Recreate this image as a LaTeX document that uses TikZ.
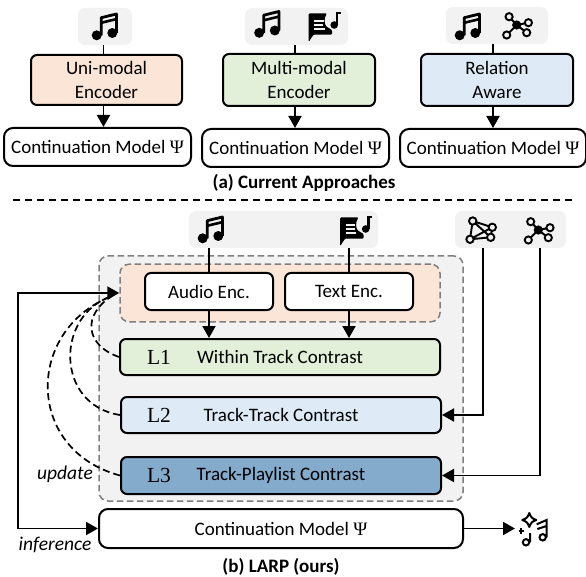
\documentclass[tikz,border=0pt]{standalone}
\usepackage{fontspec}
\setmainfont{Carlito}
\newfontfamily\serifsym{Liberation Serif}
\usetikzlibrary{arrows.meta}
\definecolor{icon gray}{HTML}{F2F2F2}
\definecolor{peach}{HTML}{FBE5D6}
\definecolor{leaf}{HTML}{E2F0D9}
\definecolor{sky}{HTML}{DEEBF7}
\definecolor{steel}{HTML}{85ABCC}
\definecolor{dash gray}{HTML}{7F7F7F}
\newcommand{\psisym}{{\serifsym Ψ}}
\begin{document}
\begin{tikzpicture}[x=1pt,y=-1pt]
    \begin{scope}
        \tikzset{
            enc box/.style={draw, line width=2pt, rounded corners=6pt, inner sep=0pt, align=center, font=\fontsize{19}{23.5}\selectfont},
            icon back/.style={fill=icon gray, rounded corners=7pt, inner sep=0pt},
            dash back/.style={draw=dash gray, line width=1.5pt, dash pattern=on 6.5pt off 3.5pt, rounded corners=9pt, inner sep=0pt},
            flow/.style={line width=1.9pt, -{Triangle[length=12pt,width=13pt]}},
            feed/.style={line width=1.9pt},
            update line/.style={line width=1.7pt, dash pattern=on 7pt off 4pt},
            caption/.style={font=\fontsize{19}{21}\selectfont\bfseries},
            side label/.style={font=\fontsize{19.5}{21}\selectfont\itshape},
            loss label/.style={font=\fontsize{21.5}{23}\selectfont\serifsym},
            music note/.pic={
                \fill (-8.3,7.3) circle (5) (7.3,5) circle (5);
                \draw[line width=2.8pt, line join=round] (-3.8,7.3) -- (-3.8,-10.3) -- (11.4,-14) -- (11.4,5);
                \draw[line width=2.6pt] (-3.8,-5.2) -- (11.4,-8.9);
            },
            chat note/.pic={
                \fill[rounded corners=1pt] (-12.8,-13.6) -- (5.5,-13.6) .. controls (2.5,-9) and (2.5,-3) .. (5.5,0) -- (10.5,3) -- (10.5,7.6) -- (-8,7.6) -- (-12.8,15) -- cycle;
                \draw[icon gray, line width=1.6pt] (-7.3,-6) -- (2,-6) (-7.3,-2) -- (1.5,-2) (-7.3,2.3) -- (3,2.3);
                \fill (12.7,-2) circle (3.8);
                \draw[line width=2.4pt] (15.6,-2) -- (15.6,-14) -- (19,-14);
            },
            mesh graph/.pic={
                \draw[line width=1.9pt, line join=round] (-10.3,-10) -- (9.3,-3.7) -- (-13,8.3) -- (7.7,6.3) -- (-10.3,-10) -- (-13,8.3) (9.3,-3.7) -- (7.7,6.3);
                \draw[line width=1.9pt, fill=icon gray] (-10.3,-10) circle (3.7) (9.3,-3.7) circle (3.7) (-13,8.3) circle (3.7) (7.7,6.3) circle (3.7);
            },
            star graph/.pic={
                \draw[line width=2pt] (-1.7,-1) -- (-9.3,-9.3) (-1.7,-1) -- (10,-3.3) (-1.7,-1) -- (-11.7,9) (-1.7,-1) -- (8.3,6.7);
                \fill (-1.7,-1) circle (4.6);
                \draw[line width=1.9pt, fill=icon gray] (-9.3,-9.3) circle (3.6) (10,-3.3) circle (3.6) (-11.7,9) circle (3.6) (8.3,6.7) circle (3.6);
            },
            sparkle note/.pic={
                \draw[line width=2pt, line join=round] (-5.7,-17) .. controls (-4,-12.5) and (-3,-11.5) .. (1.3,-10) .. controls (-3,-8.5) and (-4,-7.5) .. (-5.7,-3) .. controls (-7.4,-7.5) and (-8.4,-8.5) .. (-12.7,-10) .. controls (-8.4,-11.5) and (-7.4,-12.5) .. cycle;
                \draw[line width=2pt] (-16.5,1) -- (-11,1) (-13.8,-1.8) -- (-13.8,3.8);
                \draw[line width=2pt] (-9,12.3) circle (3.2) (7.7,7.3) circle (3.2);
                \draw[line width=2pt] (-4.8,12.3) -- (-4.8,3) (11.6,7.3) -- (11.6,-10) -- (1.7,-5.7) (11.6,-4) -- (2.3,-1);
            },
        }
        \useasboundingbox (0,0) rectangle (586,577);

        % Icons of the current approaches
        \node [icon back, minimum width=54pt, minimum height=37pt] (uni icons) at (105,26.5) {};
        \node [icon back, minimum width=103pt, minimum height=37pt] (multi icons) at (296.5,26.5) {};
        \node [icon back, minimum width=102pt, minimum height=37pt] (rel icons) at (497,25.5) {};
        \pic at (105,28) {music note};
        \pic at (267.5,25.5) {music note};
        \pic at (321.5,27) {chat note};
        \pic at (468,28) {music note};
        \pic at (518.4,26) {star graph};

        % Encoders and continuation models
        \node [enc box, fill=peach, minimum width=151pt, minimum height=50pt] (uni) at (106.5,80) {Uni-modal\\Encoder};
        \node [enc box, fill=leaf, minimum width=152pt, minimum height=52pt] (multi) at (299,80) {Multi-modal\\Encoder};
        \node [enc box, fill=sky, minimum width=152pt, minimum height=52pt] (rel) at (497,80) {Relation\\Aware};
        \node [enc box, rounded corners=9pt, minimum width=187pt, minimum height=38pt] (uni model) at (97.5,147) {Continuation Model \psisym};
        \node [enc box, rounded corners=9pt, minimum width=187pt, minimum height=38pt] (multi model) at (295.5,148) {Continuation Model \psisym};
        \node [enc box, rounded corners=9pt, minimum width=186pt, minimum height=38pt] (rel model) at (493,148) {Continuation Model \psisym};
        \coordinate (uni x) at (103.5,0);
        \coordinate (multi x) at (295,0);
        \coordinate (rel x) at (493,0);
        \draw [feed] (uni x |- uni icons.south) -- (uni x |- uni.north);
        \draw [flow] (uni x |- uni.south) -- (uni x |- uni model.north);
        \draw [feed] (multi x |- multi icons.south) -- (multi x |- multi.north);
        \draw [flow] (multi x |- multi.south) -- (multi x |- multi model.north);
        \draw [feed] (rel x |- rel icons.south) -- (rel x |- rel.north);
        \draw [flow] (rel x |- rel.south) -- (rel x |- rel model.north);
        \node [caption] (cap a) at (304,183) {(a) Current Approaches};

        % Divider
        \coordinate (div left) at (13,200);
        \coordinate (div right) at (573,200);
        \draw [line width=1.7pt, dash pattern=on 7pt off 5pt] (div left) -- (div right);

        % Inputs of LARP
        \node [icon back, minimum width=189pt, minimum height=37pt] (inputs) at (283.5,229.5) {};
        \node [icon back, minimum width=111pt, minimum height=37pt] (graphs) at (510.5,229.5) {};
        \coordinate (audio in) at (211,231);
        \coordinate (text in) at (353,231);
        \coordinate (mesh in) at (483,231);
        \coordinate (star in) at (540,231);
        \pic at (audio in) {music note};
        \pic at (text in) {chat note};
        \pic at (mesh in) {mesh graph};
        \pic at (star in) {star graph};

        % Training block
        \node [dash back, fill=icon gray, minimum width=364pt, minimum height=245pt] (train) at (281,378.5) {};
        \node [dash back, fill=peach, minimum width=320pt, minimum height=57.5pt] (encoders) at (280,293) {};
        \node [enc box, fill=white, minimum width=128pt, minimum height=37pt] (audio) at (209,291.5) {Audio Enc.};
        \node [enc box, fill=white, minimum width=128pt, minimum height=37pt] (text) at (349,291.5) {Text Enc.};
        \node [enc box, fill=leaf, minimum width=320pt, minimum height=36pt] (lone) at (280,357) {Within Track Contrast};
        \node [enc box, fill=sky, minimum width=320pt, minimum height=36pt] (ltwo) at (281,415) {Track-Track Contrast};
        \node [enc box, fill=steel, minimum width=320pt, minimum height=37pt] (lthree) at (281,475.5) {Track-Playlist Contrast};
        \node [loss label] (lone tag) at (159,357) {L1};
        \node [loss label] (ltwo tag) at (159,415) {L2};
        \node [loss label] (lthree tag) at (159,475.5) {L3};
        \node [enc box, rounded corners=9pt, minimum width=364pt, minimum height=39pt] (model) at (281,528.5) {Continuation Model \psisym};

        % Connect the inputs
        \draw [feed] (audio.north |- inputs.south) -- (audio.north);
        \draw [feed] (text.north |- inputs.south) -- (text.north);
        \draw [flow] (audio.south) -- (audio.south |- lone.north);
        \draw [flow] (text.south) -- (text.south |- lone.north);
        \draw [flow] (mesh in |- graphs.south) |- (ltwo.east);
        \draw [flow] (star in |- graphs.south) |- (lthree.east);

        % Update and inference paths
        \coordinate (rail) at (18,528.5);
        \coordinate (upd) at (112,296);
        \draw [update line] (lone.west) .. controls (85,345) and (82,315) .. (upd);
        \draw [update line] (ltwo.west) .. controls (55,405) and (55,315) .. (upd);
        \draw [update line] (lthree.west) .. controls (25,450) and (25,330) .. (upd);
        \draw [flow, {Triangle[length=12pt,width=13pt]}-{Triangle[length=12pt,width=13pt]}] (model.west) -- (rail) |- (encoders.west);
        \node [side label] (update tag) at (65,474) {update};
        \node [side label] (inference tag) at (55,545) {inference};

        % Output
        \coordinate (result) at (535,530);
        \pic at (result) {sparkle note};
        \coordinate (result in) at (515,528.5);
        \draw [flow] (model.east) -- (result in);
        \node [caption] (cap b) at (281,567) {(b) LARP (ours)};
    \end{scope}
\end{tikzpicture}
\end{document}
